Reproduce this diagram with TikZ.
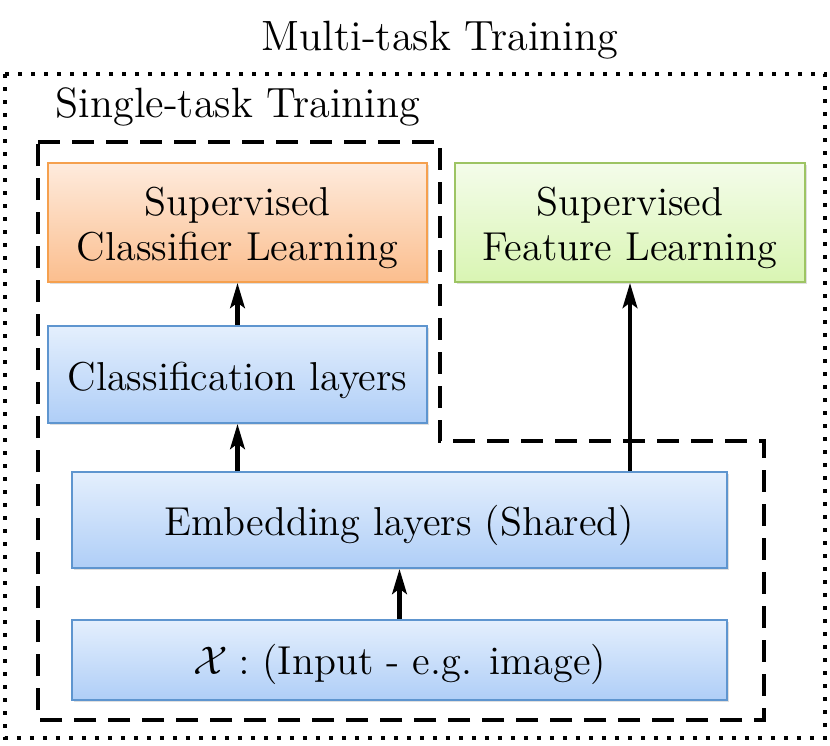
\documentclass[tikz,border=0pt]{standalone}
\usetikzlibrary{arrows.meta,shadows}
\definecolor{orTop}{HTML}{FEEBDD}
\definecolor{orBot}{HTML}{FBBE8E}
\definecolor{orLine}{HTML}{F5A04E}
\definecolor{grTop}{HTML}{F4FCEA}
\definecolor{grBot}{HTML}{D9F5B3}
\definecolor{grLine}{HTML}{9DC463}
\definecolor{blTop}{HTML}{E4EFFD}
\definecolor{blBot}{HTML}{AFCEF7}
\definecolor{blLine}{HTML}{5E95CF}
\newcommand{\lowtext}[2]{\raisebox{-#1}[\height][\depth]{#2}}
\newcommand{\twolines}[2]{\begin{tabular}{@{}c@{}}#1\\#2\end{tabular}}
\begin{document}
\begin{tikzpicture}[x=0.3pt,y=-0.3pt,
  every node/.style={font=\fontsize{12.1}{13.5}\selectfont, align=center},
  title/.style={font=\fontsize{12.7}{15}\selectfont},
  box/.style={rectangle, inner sep=0pt, line width=0.6pt,
     drop shadow={opacity=0.25, shadow xshift=0.6pt, shadow yshift=-0.6pt}},
  orbox/.style={box, draw=orLine, top color=orTop, bottom color=orBot},
  grbox/.style={box, draw=grLine, top color=grTop, bottom color=grBot},
  blbox/.style={box, draw=blLine, top color=blTop, bottom color=blBot},
  arr/.style={line width=1.25pt, -{Stealth[length=7.5pt,width=4.4pt,inset=1.6pt]}},
  dotline/.style={line width=1.1pt, dash pattern=on 1.1pt off 2.8pt},
  dashline/.style={line width=1.2pt, dash pattern=on 6.6pt off 3.6pt}]
\useasboundingbox (0,0) rectangle (830,745);
\fill[white] (0,0) rectangle (830,745);
% outer dotted frame
\draw[dotline] (5,74) rectangle (825,738);
\node[title] (multi) at (440,40) {Multi-task Training};
% dashed single-task region
\draw[dashline] (38,142) -- (440,142) -- (440,441) -- (764,441) -- (764,720) -- (38,720) -- cycle;
\node[title] (single) at (238,107) {Single-task Training};
% boxes
\node[orbox, minimum width=113.7pt, minimum height=35.7pt] (orange) at (237.5,222.5)
  {\lowtext{2pt}{\twolines{Supervised}{Classifier Learning}}};
\node[grbox, minimum width=105pt, minimum height=35.7pt] (green) at (630,222.5)
  {\lowtext{2pt}{\twolines{Supervised}{Feature Learning}}};
\node[blbox, minimum width=113.7pt, minimum height=29.1pt] (class) at (237.5,374.5)
  {\lowtext{1.7pt}{Classification layers}};
\node[blbox, minimum width=196.5pt, minimum height=28.8pt] (emb) at (399.5,520)
  {\lowtext{1.7pt}{Embedding layers (Shared)}};
\node[blbox, minimum width=196.5pt, minimum height=24pt] (input) at (399.5,660)
  {\lowtext{1.4pt}{$\mathcal{X}:$ (Input - e.g. image)}};
% arrows
\draw[arr] (class.north) -- (orange.south);
\draw[arr] (emb.north -| class.south) -- (class.south);
\draw[arr] (emb.north -| green.south) -- (green.south);
\draw[arr] (input.north) -- (emb.south);
\end{tikzpicture}
\end{document}
